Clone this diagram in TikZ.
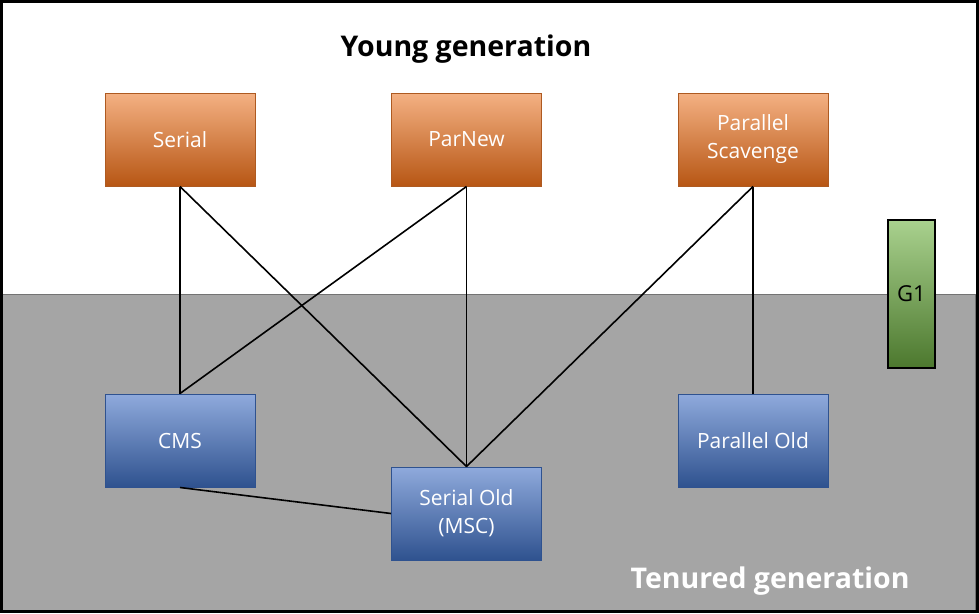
\documentclass[tikz,border=0pt]{standalone}
\usepackage{fontspec}
\setmainfont{Open Sans}
\definecolor{orgtop}{RGB}{244,177,131}
\definecolor{orgmid}{RGB}{237,125,49}
\definecolor{orgbot}{RGB}{183,86,20}
\definecolor{orgline}{RGB}{174,90,33}
\definecolor{blutop}{RGB}{143,170,220}
\definecolor{blumid}{RGB}{68,114,196}
\definecolor{blubot}{RGB}{47,82,143}
\definecolor{bluline}{RGB}{47,82,143}
\definecolor{grntop}{RGB}{169,209,142}
\definecolor{grnmid}{RGB}{112,173,71}
\definecolor{grnbot}{RGB}{76,120,46}
\definecolor{tenured}{RGB}{165,165,165}
\begin{document}
\begin{tikzpicture}[x=1pt,y=-1pt,
  gcbox/.style={rectangle,minimum width=150pt,minimum height=93pt,inner sep=0pt,
    align=center,text=white,font=\fontsize{21}{28}\selectfont},
  young/.style={gcbox,draw=orgline,line width=1pt,top color=orgtop,middle color=orgmid,bottom color=orgbot},
  old/.style={gcbox,draw=bluline,line width=1pt,top color=blutop,middle color=blumid,bottom color=blubot},
  link/.style={line width=1.6pt,black}]
\useasboundingbox (0,0) rectangle (979,613);
% generations
\fill[white] (0,0) rectangle (979,613);
\draw[draw=gray!90!black,fill=tenured] (2.5,294) rectangle (975.5,610.5);
\draw[line width=3pt] (1.5,1.5) rectangle (977,611.5);
\node[font=\fontsize{28.5}{32}\selectfont\bfseries] (ytitle) at (466,49) {Young generation};
\node[font=\fontsize{28.5}{32}\selectfont\bfseries,text=white] (ttitle) at (770,581) {Tenured generation};
% young collectors
\node[young] (serial) at (180,139.5) {Serial};
\node[young] (parnew) at (466.5,139.5) {ParNew};
\node[young] (pscav) at (753,139.5) {Parallel\\Scavenge};
% old collectors
\node[old] (cms) at (180,440.5) {CMS};
\node[old] (sold) at (466.5,513.5) {Serial Old\\(MSC)};
\node[old] (pold) at (753,440.5) {Parallel Old};
% G1
\node[rectangle,draw=black,line width=2.5pt,minimum width=47pt,minimum height=148pt,
  inner sep=0pt,top color=grntop,middle color=grnmid,bottom color=grnbot,
  font=\fontsize{22}{24}\selectfont] (gone) at (911.5,294) {G1};
% combinations
\draw[link] (serial.south) -- (cms.north);
\draw[link] (serial.south) -- (sold.north);
\draw[link] (parnew.south) -- (cms.north);
\draw[link] (parnew.south) -- (sold.north);
\draw[link] (pscav.south) -- (sold.north);
\draw[link] (pscav.south) -- (pold.north);
\draw[link] (cms.south) -- (sold.west);
\end{tikzpicture}
\end{document}
